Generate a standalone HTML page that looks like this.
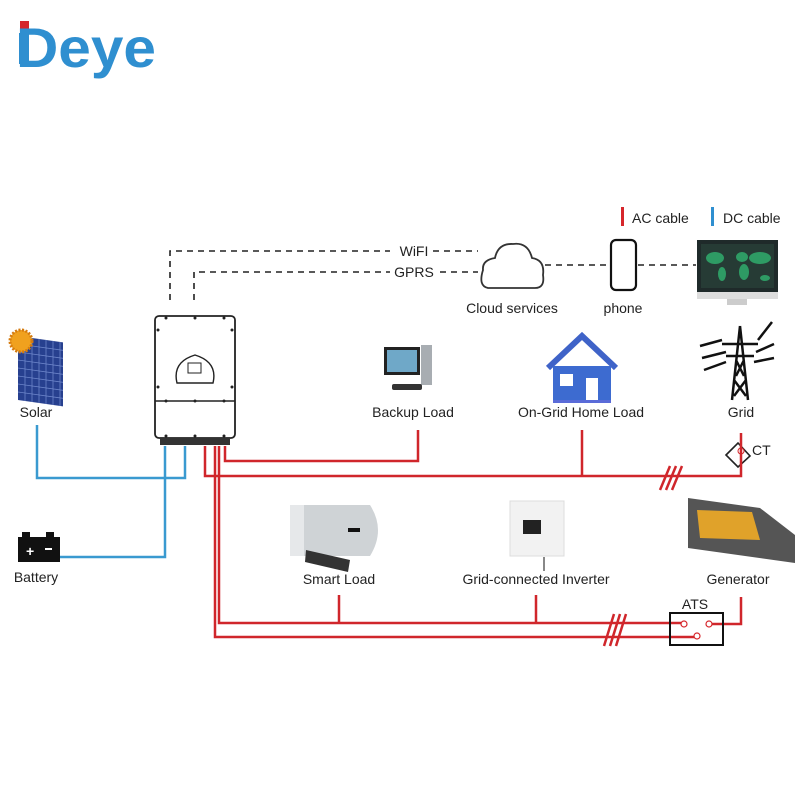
<!DOCTYPE html>
<html><head><meta charset="utf-8"><style>
html,body{margin:0;padding:0;background:#fff;}
svg text{font-family:"Liberation Sans",sans-serif;}
</style></head><body>
<svg width="800" height="800" viewBox="0 0 800 800" xmlns="http://www.w3.org/2000/svg">
<!-- Logo -->
<rect x="20" y="21" width="9" height="9" fill="#d6262b"/>
<text x="16" y="67" font-size="56" font-weight="bold" fill="#2f8fd0" letter-spacing="0" textLength="140" lengthAdjust="spacingAndGlyphs">Deye</text>
<rect x="19" y="33" width="10" height="31" fill="#2f8fd0"/>

<!-- Legend -->
<rect x="621" y="207" width="3" height="19" fill="#d6262b"/>
<text x="632" y="223" font-size="14" fill="#222">AC cable</text>
<rect x="711" y="207" width="3" height="19" fill="#2f8fd0"/>
<text x="723" y="223" font-size="14" fill="#222">DC cable</text>

<!-- Dashed comms -->
<g stroke="#222" stroke-width="1.6" fill="none" stroke-dasharray="6,5">
<path d="M170 300 V251 H390"/>
<path d="M194 300 V272 H390"/>
<path d="M433 251 H478 M440 272 H478"/>
<path d="M545 265 H608 M638 265 H696"/>
</g>
<text x="414" y="256" font-size="14" fill="#222" text-anchor="middle">WiFI</text>
<text x="414" y="277" font-size="14" fill="#222" text-anchor="middle">GPRS</text>

<!-- Cloud -->
<path d="M488 288 Q478 286 483 270 Q482 260 495 258 Q498 243 513 244 Q528 242 532 258 Q545 260 543 275 Q545 288 535 288 Z" fill="#fff" stroke="#333" stroke-width="1.8"/>
<text x="512" y="313" font-size="14" fill="#222" text-anchor="middle">Cloud services</text>
<!-- Phone -->
<rect x="611" y="240" width="25" height="50" rx="5" fill="#fff" stroke="#111" stroke-width="2.2"/>
<text x="623" y="313" font-size="14" fill="#222" text-anchor="middle">phone</text>
<!-- Monitor -->
<rect x="697" y="240" width="81" height="52" fill="#1f2a2a"/>
<rect x="701" y="244" width="73" height="44" fill="#263b35"/>
<g fill="#2e9b64"><ellipse cx="715" cy="258" rx="9" ry="6"/><ellipse cx="722" cy="274" rx="4" ry="7"/><ellipse cx="742" cy="257" rx="6" ry="5"/><ellipse cx="744" cy="272" rx="5" ry="8"/><ellipse cx="760" cy="258" rx="11" ry="6"/><ellipse cx="765" cy="278" rx="5" ry="3"/></g>
<rect x="697" y="292" width="81" height="7" fill="#ddd"/>
<rect x="727" y="299" width="20" height="6" fill="#ccc"/>

<!-- Solar -->
<g transform="translate(18,336) skewY(8)"><rect x="0" y="0" width="45" height="64" fill="#27408f"/>
<g stroke="#6c84c9" stroke-width="0.8"><path d="M7 0V64M14 0V64M21 0V64M28 0V64M35 0V64M42 0V64M0 8H45M0 16H45M0 24H45M0 32H45M0 40H45M0 48H45M0 56H45"/></g></g>
<circle cx="21" cy="341" r="11" fill="#f0a11e" stroke="#d57b0f" stroke-width="3" stroke-dasharray="2,1.5"/>
<text x="36" y="417" font-size="14" fill="#222" text-anchor="middle">Solar</text>

<!-- Inverter -->
<rect x="155" y="316" width="80" height="122" rx="4" fill="#fff" stroke="#222" stroke-width="1.8"/>
<line x1="155" y1="401" x2="235" y2="401" stroke="#222" stroke-width="1.4"/>
<path d="M177 383 Q172 362 195 355 Q218 362 213 383 Z" fill="#fff" stroke="#222" stroke-width="1.4"/>
<rect x="188" y="363" width="13" height="10" fill="#fff" stroke="#222"/>
<g fill="#222"><circle cx="166" cy="318" r="1.5"/><circle cx="195" cy="318" r="1.5"/><circle cx="224" cy="318" r="1.5"/><circle cx="158" cy="330" r="1.5"/><circle cx="232" cy="330" r="1.5"/><circle cx="158" cy="387" r="1.5"/><circle cx="232" cy="387" r="1.5"/><circle cx="166" cy="401" r="1.5"/><circle cx="195" cy="401" r="1.5"/><circle cx="224" cy="401" r="1.5"/><circle cx="166" cy="436" r="1.5"/><circle cx="195" cy="436" r="1.5"/><circle cx="224" cy="436" r="1.5"/></g>
<rect x="160" y="438" width="70" height="7" fill="#333"/>

<!-- Backup load computer -->
<rect x="384" y="347" width="36" height="28" fill="#222"/>
<rect x="387" y="350" width="30" height="22" fill="#6fa8c8"/>
<rect x="421" y="345" width="11" height="40" fill="#a8adb2"/>
<rect x="392" y="384" width="30" height="6" rx="2" fill="#333"/>
<text x="413" y="417" font-size="14" fill="#222" text-anchor="middle">Backup Load</text>

<!-- House -->
<path d="M548 368 L582 336 L616 368" fill="none" stroke="#3f63c8" stroke-width="6"/>
<rect x="553" y="366" width="58" height="34" fill="#3d6bd0"/>
<rect x="553" y="400" width="58" height="3" fill="#5a6bd8"/>
<rect x="560" y="374" width="13" height="12" fill="#fff"/>
<rect x="586" y="378" width="12" height="22" fill="#fff"/>
<text x="581" y="417" font-size="14" fill="#222" text-anchor="middle">On-Grid Home Load</text>

<!-- Grid tower -->
<g stroke="#111" stroke-width="2.5" fill="none">
<path d="M740 326 L732 400 M740 326 L748 400 M734 380 L746 396 M746 380 L734 396 M736 360 L744 376 M744 360 L736 376"/>
<path d="M722 344 H758 M726 356 H754"/>
<path d="M700 346 L722 340 M702 358 L726 352 M704 370 L726 362 M758 340 L772 322 M756 352 L774 344 M754 362 L774 358"/>
</g>
<text x="741" y="417" font-size="14" fill="#222" text-anchor="middle">Grid</text>

<!-- Battery -->
<rect x="18" y="537" width="42" height="25" fill="#111"/>
<rect x="22" y="532" width="8" height="6" fill="#111"/><rect x="46" y="532" width="8" height="6" fill="#111"/>
<text x="26" y="556" font-size="14" font-weight="bold" fill="#fff">+</text>
<rect x="45" y="548" width="7" height="2" fill="#fff"/>
<text x="36" y="582" font-size="14" fill="#222" text-anchor="middle">Battery</text>

<!-- Smart load heater -->
<path d="M295 505 H370 Q386 530 370 556 H295 Z" fill="#cfd3d6"/>
<rect x="290" y="505" width="14" height="51" fill="#e6e8ea"/>
<rect x="348" y="528" width="12" height="4" fill="#111"/>
<path d="M306 550 L350 560 L348 572 L305 562 Z" fill="#333"/>
<text x="339" y="584" font-size="14" fill="#222" text-anchor="middle">Smart Load</text>

<!-- Grid-connected inverter -->
<rect x="510" y="501" width="54" height="55" fill="#f2f2f2" stroke="#ddd"/>
<rect x="523" y="520" width="18" height="14" fill="#222"/>
<rect x="543" y="557" width="2" height="14" fill="#888"/>
<text x="536" y="584" font-size="14" fill="#222" text-anchor="middle">Grid-connected Inverter</text>

<!-- Generator -->
<path d="M688 498 L760 508 L795 535 L795 563 L688 548 Z" fill="#555"/>
<path d="M697 510 L752 512 L760 540 L700 538 Z" fill="#e0a22a"/>
<text x="738" y="584" font-size="14" fill="#222" text-anchor="middle">Generator</text>

<!-- CT -->
<path d="M726 455 L738 443 L750 456 L738 467 Z" fill="#fff" stroke="#222" stroke-width="1.6"/>
<circle cx="741" cy="451" r="3" fill="none" stroke="#d6262b"/>
<text x="752" y="455" font-size="14" fill="#222">CT</text>

<!-- DC lines -->
<g stroke="#3a9ad0" stroke-width="2.5" fill="none">
<path d="M37 425 V478 H185 V446"/>
<path d="M165 446 V557 H60"/>
</g>

<!-- AC lines -->
<g stroke="#d0262b" stroke-width="2.5" fill="none">
<path d="M225 446 V461 H418 V430"/>
<path d="M205 446 V476 H741 V433"/>
<path d="M582 476 V430"/>
<path d="M219 446 V623 H684"/>
<path d="M215 446 V637 H696"/>
<path d="M339 623 V595 M536 623 V595"/>
<path d="M741 597 V624 H709"/>
<path d="M660 490 L670 466 M666 490 L676 466 M672 490 L682 466"/>
<path d="M604 646 L614 614 M610 646 L620 614 M616 646 L626 614"/>
</g>

<!-- ATS -->
<rect x="670" y="613" width="53" height="32" fill="none" stroke="#111" stroke-width="2"/>
<text x="695" y="609" font-size="14" fill="#222" text-anchor="middle">ATS</text>
<g fill="#fff" stroke="#d6262b" stroke-width="1.2"><circle cx="684" cy="624" r="3"/><circle cx="709" cy="624" r="3"/><circle cx="697" cy="636" r="3"/></g>
</svg>
</body></html>
